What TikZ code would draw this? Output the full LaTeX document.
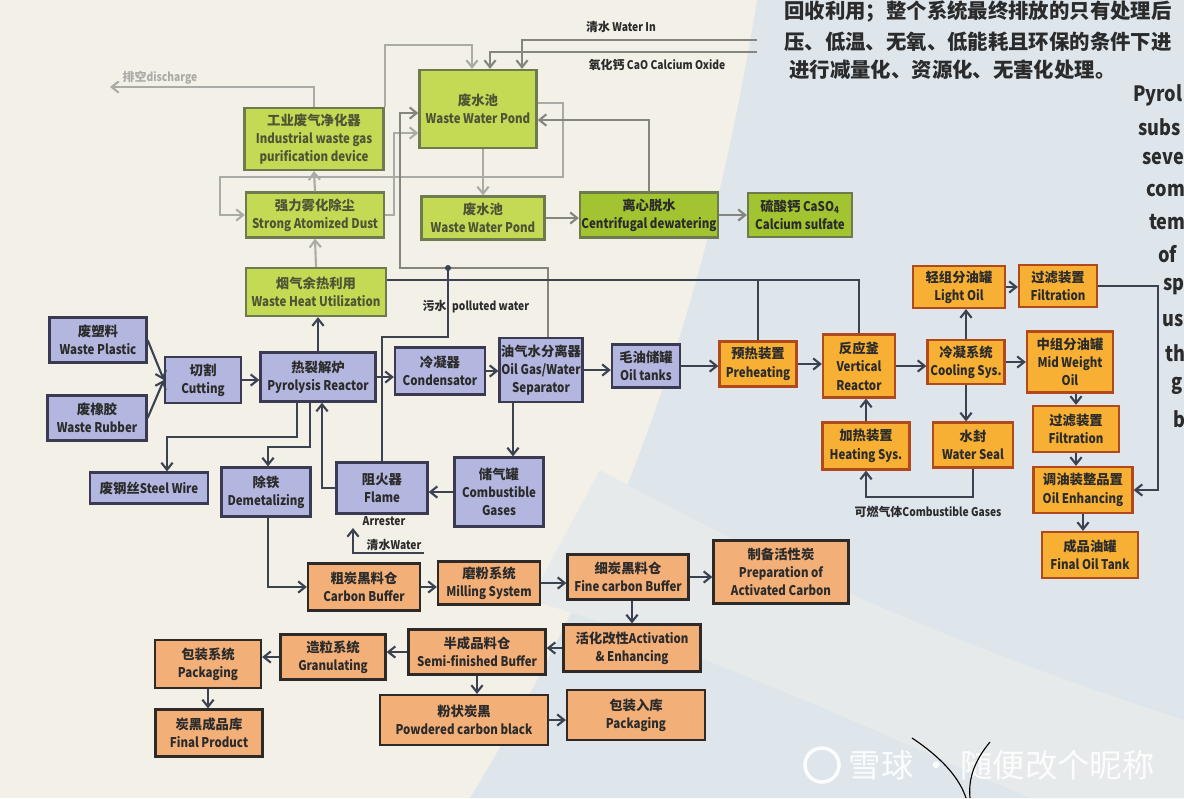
\documentclass[tikz,border=0pt]{standalone}
\usepackage{fontspec}
\setmainfont{Noto Sans CJK SC}[FakeStretch=0.86]
\newfontfamily\zhfont{Noto Sans CJK SC}
\newcommand{\zh}[1]{{\zhfont #1}}
\usetikzlibrary{arrows.meta}

\definecolor{bgCream}{HTML}{F3F0E8}
\definecolor{bgBlue}{HTML}{DEE6EB}
\definecolor{bgBand}{HTML}{E6EAEA}
\definecolor{grnFill}{HTML}{C4DA55}
\definecolor{grnDeep}{HTML}{A2C430}
\definecolor{grnLine}{HTML}{6F7A4E}
\definecolor{grnText}{HTML}{4E5535}
\definecolor{bluFill}{HTML}{B3B6DE}
\definecolor{bluLine}{HTML}{3A3A52}
\definecolor{orgFill}{HTML}{F7B033}
\definecolor{orgLine}{HTML}{B04A1C}
\definecolor{pchFill}{HTML}{F3AF78}
\definecolor{pchLine}{HTML}{2E2A28}
\definecolor{lnDark}{HTML}{3B4250}
\definecolor{lnGray}{HTML}{85857F}
\definecolor{lnLight}{HTML}{ABABA6}
\definecolor{txtDark}{HTML}{2B2B2B}

\begin{document}
\begin{tikzpicture}[
        x=0.025cm, y=-0.025cm,
        font=\bfseries\fontsize{9.5}{13}\selectfont,
        box/.style={draw, line width=1.6pt, align=center, inner sep=1pt},
        wh/.style 2 args={minimum width=#1*0.025cm, minimum height=#2*0.025cm},
        grn/.style={box, draw=grnLine, fill=grnFill, text=grnText},
        grnd/.style={box, draw=grnLine, fill=grnDeep, text=txtDark},
        blu/.style={box, draw=bluLine, fill=bluFill, text=txtDark},
        org/.style={box, draw=orgLine, fill=orgFill, text=txtDark},
        pch/.style={box, draw=pchLine, fill=pchFill, text=txtDark},
        lbl/.style={inner sep=1pt, text=txtDark, font=\bfseries\fontsize{8.5}{10}\selectfont},
        head/.style={anchor=west, inner sep=0pt, text=txtDark, font=\zhfont\bfseries\fontsize{14.5}{15}\selectfont},
        flow/.style={draw=lnDark, line width=1.5pt, -{Straight Barb[length=5pt,width=8pt]}},
        pipe/.style={draw=lnDark, line width=1.5pt},
        gflow/.style={draw=lnLight, line width=1.5pt, -{Straight Barb[length=5pt,width=8pt]}},
        mflow/.style={draw=lnGray, line width=1.5pt, -{Straight Barb[length=5pt,width=8pt]}}
    ]
        \useasboundingbox (0,0) rectangle (1184,798);
        \clip (0,0) rectangle (1184,798);

        % page background
        \fill[bgCream] (0,0) rectangle (1184,798);
        \fill[bgBlue] (757,0) .. controls (715,260) and (640,520) .. (470,798) -- (1184,798) -- (1184,0) -- cycle;
        \fill[bgBand] (600,470) .. controls (820,590) and (1000,660) .. (1184,720) -- (1184,798) -- (1030,798) .. controls (850,720) and (700,650) .. (530,600) -- cycle;

        % page text
        \node[head] (hd1) at (784,12) {回收利用；整个系统最终排放的只有处理后};
        \node[head] (hd2) at (784,42) {压、低温、无氧、低能耗且环保的条件下进};
        \node[head] (hd3) at (789,70) {进行减量化、资源化、无害化处理。};
        \foreach \x/\y/\word in {1133/95/Pyrol, 1138/127/subs, 1142/158/seve, 1146/190/com,
            1149/222/tem, 1158/254/of, 1163/287/sp, 1162/320/us, 1165/353/th, 1171/386/g, 1173/419/b} {
            \node[anchor=west, inner sep=0pt, text=txtDark, font=\bfseries\fontsize{15}{15}\selectfont] at (\x,\y) {\word};
        }

        % green treatment units
        \node[grn, wh={139}{62}] (gasP) at (314,139) {\zh{工业废气净化器}\\Industrial waste gas\\purification device};
        \node[grn, wh={138}{45}] (dust) at (315,215) {\zh{强力雾化除尘}\\Strong Atomized Dust};
        \node[grn, wh={140}{48}] (heat) at (316,292) {\zh{烟气余热利用}\\Waste Heat Utilization};
        \node[grn, wh={117}{78}] (pond1) at (478,109) {\zh{废水池}\\Waste Water Pond};
        \node[grn, wh={123}{43}] (pond2) at (483,218) {\zh{废水池}\\Waste Water Pond};
        \node[grnd, wh={138}{45}] (cent) at (649,215) {\zh{离心脱水}\\Centrifugal dewatering};
        \node[grnd, wh={104}{44}] (caso) at (800,215) {\zh{硫酸钙} CaSO\textsubscript{4}\\Calcium sulfate};

        % blue pyrolysis line
        \node[blu, wh={97}{45}] (wplastic) at (98,340) {\zh{废塑料}\\Waste Plastic};
        \node[blu, wh={99}{45}] (wrubber) at (97,418) {\zh{废橡胶}\\Waste Rubber};
        \node[blu, wh={76}{46}] (cut) at (203,380) {\zh{切割}\\Cutting};
        \node[blu, wh={115}{49}] (pyro) at (318,377) {\zh{热裂解炉}\\Pyrolysis Reactor};
        \node[blu, wh={90}{47}] (cond) at (440,371) {\zh{冷凝器}\\Condensator};
        \node[blu, wh={79}{64}] (sep) at (541,370) {\zh{油气水分离器}\\Oil Gas/Water\\Separator};
        \node[blu, wh={68}{43}] (tank) at (646,366) {\zh{毛油储罐}\\Oil tanks};
        \node[blu, wh={118}{31}] (wire) at (149,488) {\zh{废钢丝}Steel Wire};
        \node[blu, wh={89}{49}] (demet) at (266,492) {\zh{除铁}\\Demetalizing};
        \node[blu, wh={91}{51}] (flame) at (382,488) {\zh{阻火器}\\Flame};
        \node[blu, wh={89}{69}] (gas) at (499,492) {\zh{储气罐}\\Combustible\\Gases};

        % orange oil line
        \node[org, wh={77}{45}] (pre) at (758,364) {\zh{预热装置}\\Preheating};
        \node[org, wh={72}{63}] (vert) at (859,366) {\zh{反应釜}\\Vertical\\Reactor};
        \node[org, wh={77}{44}] (cool) at (966,362) {\zh{冷凝系统}\\Cooling Sys.};
        \node[org, wh={92}{42}] (light) at (959,287) {\zh{轻组分油罐}\\Light Oil};
        \node[org, wh={78}{42}] (filt1) at (1058,286) {\zh{过滤装置}\\Filtration};
        \node[org, wh={86}{61}] (mid) at (1070,362) {\zh{中组分油罐}\\Mid Weight\\Oil};
        \node[org, wh={86}{46}] (filt2) at (1076,429) {\zh{过滤装置}\\Filtration};
        \node[org, wh={99}{46}] (enh) at (1083,490) {\zh{调油装整品置}\\Oil Enhancing};
        \node[org, wh={96}{46}] (ftank) at (1090,555) {\zh{成品油罐}\\Final Oil Tank};
        \node[org, wh={87}{47}] (heats) at (866,446) {\zh{加热装置}\\Heating Sys.};
        \node[org, wh={80}{45}] (seal) at (973,445) {\zh{水封}\\Water Seal};

        % peach carbon line
        \node[pch, wh={112}{47}] (cbuf) at (364,587) {\zh{粗炭黑料仓}\\Carbon Buffer};
        \node[pch, wh={102}{43}] (mill) at (489,583) {\zh{磨粉系统}\\Milling System};
        \node[pch, wh={121}{45}] (fine) at (628,577) {\zh{细炭黑料仓}\\Fine carbon Buffer};
        \node[pch, wh={135}{63}] (actc) at (781,572) {\zh{制备活性炭}\\Preparation of\\Activated Carbon};
        \node[pch, wh={137}{47}] (act) at (632,648) {\zh{活化改性}Activation\\\& Enhancing};
        \node[pch, wh={137}{45}] (semi) at (477,652) {\zh{半成品料仓}\\Semi-finished Buffer};
        \node[pch, wh={105}{45}] (gran) at (333,657) {\zh{造粒系统}\\Granulating};
        \node[pch, wh={106}{48}] (pack1) at (208,664) {\zh{包装系统}\\Packaging};
        \node[pch, wh={107}{47}] (final) at (209,733) {\zh{炭黑成品库}\\Final Product};
        \node[pch, wh={168}{50}] (powder) at (464,720) {\zh{粉状炭黑}\\Powdered carbon black};
        \node[pch, wh={138}{50}] (pack2) at (636,715) {\zh{包装入库}\\Packaging};

        % free labels
        \node[lbl] (waterIn) at (621,27) {\zh{清水} Water In};
        \node[lbl] (caoLbl) at (657,65) {\zh{氧化钙} CaO Calcium Oxide};
        \node[lbl, text=lnLight] (dischLbl) at (160,78) {\zh{排空}discharge};
        \node[lbl, anchor=west] (pollLbl) at (421,307) {\zh{污水}\hspace{4pt}polluted water};
        \node[lbl] (arrLbl) at (384,521) {Arrester};
        \node[lbl] (waterLbl) at (394,545) {\zh{清水}Water};
        \node[lbl] (combLbl) at (928,512) {\zh{可燃气体}Combustible Gases};

        \coordinate (dis) at (110,87);
        \coordinate (win) at (757,40);
        \coordinate (cao) at (757,52);
        \coordinate (jn) at (448,268);
        \coordinate (wtr) at (424,553);
        \coordinate (arrB) at (353,528);

        % water treatment loop
        \draw[gflow] (gasP.north) |- (dis);
        \draw[gflow] (gasP.north east) |- (472,45) -- (472,0 |- pond1.north);
        \draw[mflow] (win) -| (522,0 |- pond1.north);
        \draw[mflow] (cao) -| (490,0 |- pond1.north);
        \draw[gflow] (pond1.east |- 0,103) -- (563,103) |- (220,177) |- (dust.west);
        \draw[mflow] (cent.north) |- (pond1.east |- 0,120);
        \draw[gflow] (pond2.north |- pond1.south) -- (pond2.north);
        \draw[mflow] (pond2.east) -- (pond2.east -| cent.west);
        \draw[mflow] (cent.east) -- (cent.east -| caso.west);
        \draw[gflow] (dust.north) -- (gasP.south);
        \draw[gflow] (heat.north) -- (dust.south);
        \draw[gflow] (dust.east) -- (394,215) |- (pond1.west |- 0,133);
        \draw[mflow] (548,0 |- sep.north) |- (400,268) |- (pond1.west |- 0,113);
        \draw[pipe] (flame.north) |- (448,337) -- (jn);
        \fill[lnDark] (jn) circle (3);

        % exhaust to heat recovery
        \draw[pipe] (heat.east |- 0,280) -| (vert.north);
        \draw[pipe] (pre.north) -- (pre.north |- 0,280);

        % pyrolysis line
        \draw[flow] (wplastic.east) -- (cut.west);
        \draw[flow] (wrubber.east) -- (cut.west);
        \draw[flow] (cut.east) -- (cut.east -| pyro.west);
        \draw[flow] (pyro.east) -- (pyro.east -| cond.west);
        \draw[flow] (cond.east) -- (cond.east -| sep.west);
        \draw[flow] (sep.east) -- (sep.east -| tank.west);
        \draw[flow] (tank.east) -- (tank.east -| pre.west);
        \draw[flow] (pre.east) -- (pre.east -| vert.west);
        \draw[flow] (vert.east) -- (vert.east -| cool.west);
        \draw[flow] (cool.east) -- (cool.east -| mid.west);
        \draw[flow] (pyro.north) -- (pyro.north |- heat.south);
        \draw[flow] (297,0 |- pyro.south) |- (167,437) -- (167,0 |- wire.north);
        \draw[flow] (310,0 |- pyro.south) |- (268,447) -- (268,0 |- demet.north);
        \draw[flow] (513,0 |- sep.south) -- (513,0 |- gas.north);
        \draw[flow] (gas.west) -- (gas.west -| flame.east);
        \draw[flow] (flame.west) -| (322,0 |- pyro.south);
        \draw[flow] (wtr) -| (arrB);
        \draw[flow] (268,0 |- demet.south) |- (cbuf.west);

        % oil line
        \draw[flow] (cool.north) -- (cool.north |- light.south);
        \draw[flow] (light.east) -- (light.east -| filt1.west);
        \draw[flow] (filt1.east) -- ++(60,0) |- (enh.east);
        \draw[flow] (filt2.north |- mid.south) -- (filt2.north);
        \draw[flow] (filt2.south) -- (filt2.south |- enh.north);
        \draw[flow] (enh.south) -- (enh.south |- ftank.north);
        \draw[flow] (cool.south) -- (cool.south |- seal.north);
        \draw[flow] (heats.north) -- (heats.north |- vert.south);
        \draw[flow] (seal.south) |- (heats.south |- 0,497) -- (heats.south);

        % carbon line
        \draw[flow] (cbuf.east) -- (cbuf.east -| mill.west);
        \draw[flow] (mill.east) -- (mill.east -| fine.west);
        \draw[flow] (fine.east) -- (fine.east -| actc.west);
        \draw[flow] (act.north |- fine.south) -- (act.north);
        \draw[flow] (act.west) -- (act.west -| semi.east);
        \draw[flow] (semi.west) -- (semi.west -| gran.east);
        \draw[flow] (gran.west) -- (gran.west -| pack1.east);
        \draw[flow] (pack1.south) -- (pack1.south |- final.north);
        \draw[flow] (semi.south) -- (semi.south |- powder.north);
        \draw[flow] (powder.east) -- (powder.east -| pack2.west);

        % watermark
        \draw[white, line width=2.5pt, opacity=0.9] (822,765) circle (17);
        \node[anchor=west, text=white, opacity=0.9, font=\zhfont\fontsize{23}{23}\selectfont] (wm) at (844,765) {雪球 · 随便改个昵称};
        \draw[black, line width=0.8pt] (912,738) .. controls (945,760) and (960,780) .. (966,798);
        \draw[black, line width=0.8pt] (990,742) .. controls (975,760) and (968,778) .. (970,798);
    \end{tikzpicture}
\end{document}
